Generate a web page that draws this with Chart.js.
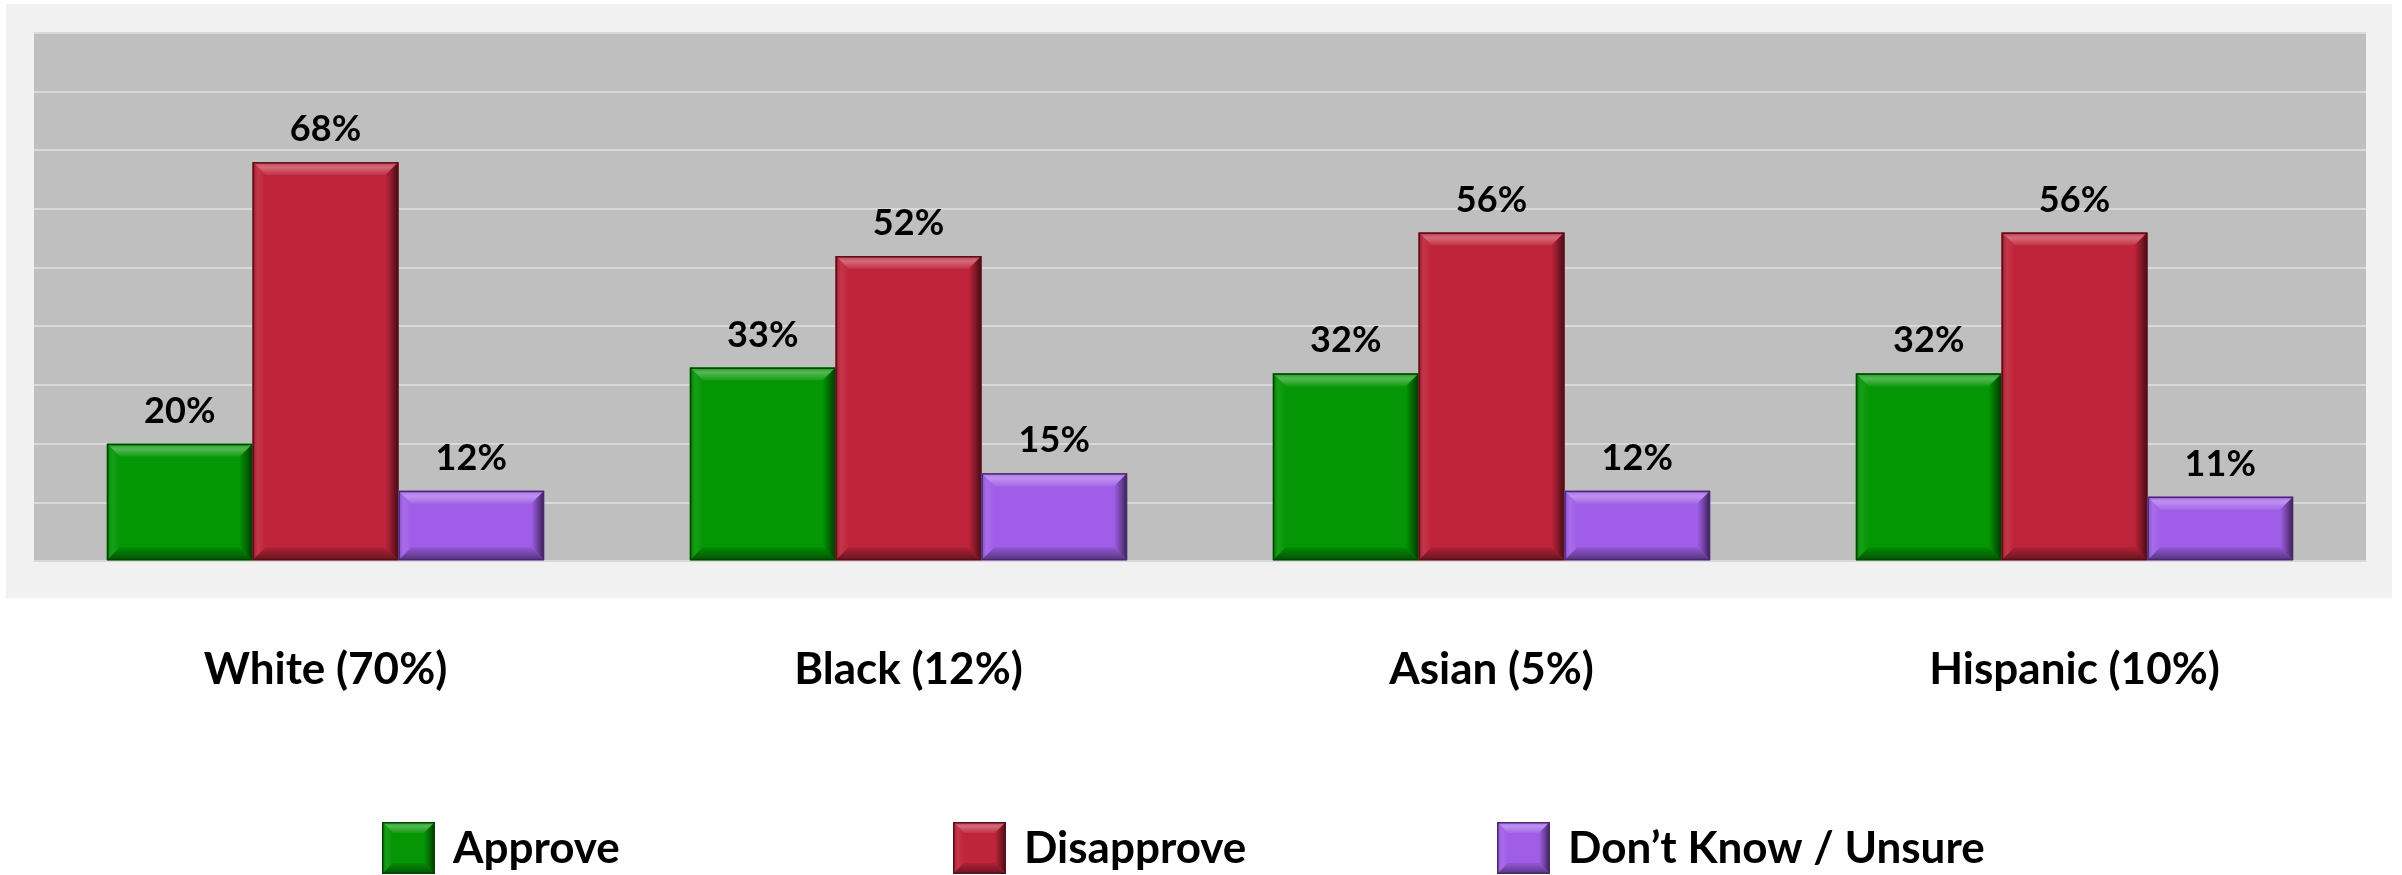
<!DOCTYPE html>
<html>
<head>
<meta charset="utf-8">
<script src="https://cdn.jsdelivr.net/npm/chart.js@4/dist/chart.umd.min.js"></script>
<style>
    html, body { margin: 0; padding: 0; background: #ffffff; }
    #wrap { width: 2402px; height: 875px; }
</style>
</head>
<body>
<div id="wrap"><canvas id="chart" width="2402" height="875"></canvas></div>
<script>
const categories = ["White (70%)", "Black (12%)", "Asian (5%)", "Hispanic (10%)"];
const approve = [20, 33, 32, 32];
const disapprove = [68, 52, 56, 56];
const unsure = [12, 15, 12, 11];
const series_names = ["Approve", "Disapprove", "Don\u2019t Know / Unsure"];
const series_colors = ["#049604", "#bf243a", "#a05ee8"];
const y_max = 90;
const y_step = 10;

const FONT = "Lato, 'Open Sans', sans-serif";

function hex_rgb(hex) {
    const n = parseInt(hex.slice(1), 16);
    return [(n >> 16) & 255, (n >> 8) & 255, n & 255];
}

function mix(hex, target, t) {
    const a = hex_rgb(hex);
    const b = (target == "white") ? [255, 255, 255] : [0, 0, 0];
    const c = a.map((v, i) => Math.round(v + (b[i] - v) * t));
    return `rgb(${c[0]},${c[1]},${c[2]})`;
}

function poly(ctx, pts, fill) {
    ctx.beginPath();
    ctx.moveTo(pts[0][0], pts[0][1]);
    for (let i = 1; i < pts.length; i++) ctx.lineTo(pts[i][0], pts[i][1]);
    ctx.closePath();
    ctx.fillStyle = fill;
    ctx.fill();
}

// bevelled block, like the office "angle" bevel
function draw_bevel(ctx, x0, y0, x1, y1, color, size) {
    const b = Math.min(size, (x1 - x0) / 2, (y1 - y0) / 2);
    ctx.save();
    ctx.fillStyle = color;
    ctx.fillRect(x0, y0, x1 - x0, y1 - y0);

    let g = ctx.createLinearGradient(0, y0, 0, y0 + b);
    g.addColorStop(0, mix(color, "white", 0.12));
    g.addColorStop(0.4, mix(color, "white", 0.32));
    g.addColorStop(1, mix(color, "white", 0.06));
    poly(ctx, [[x0, y0], [x1, y0], [x1 - b, y0 + b], [x0 + b, y0 + b]], g);

    g = ctx.createLinearGradient(x0, 0, x0 + b, 0);
    g.addColorStop(0, mix(color, "black", 0.15));
    g.addColorStop(0.4, mix(color, "white", 0.08));
    g.addColorStop(1, color);
    poly(ctx, [[x0, y0], [x0 + b, y0 + b], [x0 + b, y1 - b], [x0, y1]], g);

    g = ctx.createLinearGradient(x1 - b, 0, x1, 0);
    g.addColorStop(0, color);
    g.addColorStop(0.5, mix(color, "black", 0.3));
    g.addColorStop(1, mix(color, "black", 0.65));
    poly(ctx, [[x1, y0], [x1, y1], [x1 - b, y1 - b], [x1 - b, y0 + b]], g);

    g = ctx.createLinearGradient(0, y1 - b, 0, y1);
    g.addColorStop(0, mix(color, "black", 0.08));
    g.addColorStop(1, mix(color, "black", 0.45));
    poly(ctx, [[x0, y1], [x1, y1], [x1 - b, y1 - b], [x0 + b, y1 - b]], g);

    ctx.strokeStyle = mix(color, "black", 0.55);
    ctx.lineWidth = 1.5;
    ctx.strokeRect(x0 + 0.75, y0 + 0.75, x1 - x0 - 1.5, y1 - y0 - 1.5);
    ctx.restore();
}

const backdrop = {
    id: "backdrop",
    beforeDraw(chart) {
        const ctx = chart.ctx;
        const a = chart.chartArea;
        ctx.save();
        ctx.fillStyle = "#f1f1f1";
        ctx.fillRect(a.left - 28, a.top - 29, a.right - a.left + 54, a.bottom - a.top + 66);
        ctx.fillStyle = "#bfbfbf";
        ctx.fillRect(a.left, a.top, a.right - a.left, a.bottom - a.top);
        ctx.restore();
    },
};

const bevel_bars = {
    id: "bevel_bars",
    afterDatasetsDraw(chart) {
        const ctx = chart.ctx;
        chart.data.datasets.forEach((ds, di) => {
            const meta = chart.getDatasetMeta(di);
            meta.data.forEach((bar, i) => {
                const p = bar.getProps(["x", "y", "base", "width"], true);
                const x0 = p.x - p.width / 2;
                draw_bevel(ctx, x0, p.y, x0 + p.width, p.base, ds.backgroundColor, 13);

                ctx.save();
                ctx.font = `bold 36px ${FONT}`;
                ctx.fillStyle = "#000000";
                ctx.textAlign = "center";
                ctx.textBaseline = "alphabetic";
                ctx.fillText(`${ds.data[i]}%`, p.x, p.y - 21);
                ctx.restore();
            });
        });
    },
};

const legend_x = [382, 953, 1497];
const bottom_legend = {
    id: "bottom_legend",
    afterDraw(chart) {
        const ctx = chart.ctx;
        const cy = 848;
        chart.data.datasets.forEach((ds, di) => {
            const x = legend_x[di];
            draw_bevel(ctx, x, cy - 26, x + 53, cy + 26, ds.backgroundColor, 11);
            ctx.save();
            ctx.font = `bold 44px ${FONT}`;
            ctx.fillStyle = "#000000";
            ctx.textAlign = "left";
            ctx.textBaseline = "middle";
            ctx.fillText(ds.label, x + 71, cy + 1);
            ctx.restore();
        });
    },
};

const data = {
    labels: categories,
    datasets: [
        { label: series_names[0], data: approve, backgroundColor: series_colors[0] },
        { label: series_names[1], data: disapprove, backgroundColor: series_colors[1] },
        { label: series_names[2], data: unsure, backgroundColor: series_colors[2] },
    ],
};

const chart = new Chart(document.getElementById("chart"), {
    type: "bar",
    data: data,
    plugins: [backdrop, bevel_bars, bottom_legend],
    options: {
        responsive: false,
        animation: false,
        devicePixelRatio: 1,
        layout: {
            padding: { left: 34, right: 36, top: 33, bottom: 97 },
        },
        datasets: {
            bar: {
                categoryPercentage: 0.75,
                barPercentage: 1.0,
                borderWidth: 0,
            },
        },
        plugins: {
            legend: { display: false },
            tooltip: { enabled: false },
        },
        scales: {
            x: {
                grid: { display: false, drawTicks: false },
                border: { display: false },
                ticks: {
                    color: "#000000",
                    padding: 82,
                    font: { family: FONT, size: 44, weight: "bold" },
                },
            },
            y: {
                min: 0,
                max: y_max,
                grid: { color: "#d9d9d9", lineWidth: 2, drawTicks: false },
                border: { display: false },
                ticks: { display: false, stepSize: y_step },
            },
        },
    },
});
</script>
</body>
</html>
